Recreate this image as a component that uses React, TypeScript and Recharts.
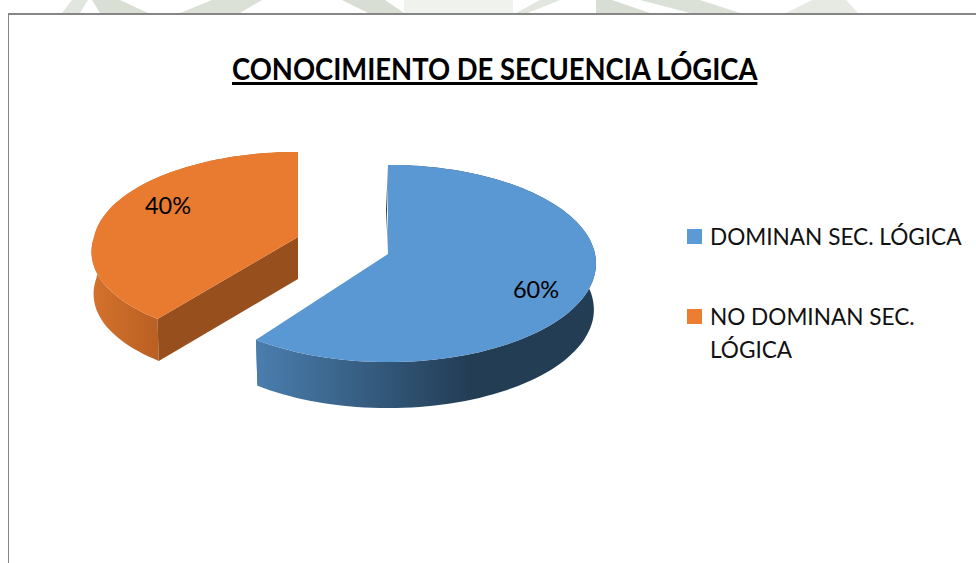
import React from 'react'
import { PieChart, Pie, Cell, Legend } from 'recharts'

const categories = ['DOMINAN SEC. LÓGICA', 'NO DOMINAN SEC. LÓGICA']
const values = [60, 40]
const sliceColors = ['#5B9BD5', '#ED7D31']
const topColors = ['#5A98D3', '#E97B30']

const chartData = categories.map((name, i) => ({ name, value: values[i] }))

// fake 3d: how far each slice is pulled out of the pie centre, wall height, near-side lean, squash
const explode = [
  { dx: 0, dy: 0, depth: 46, lean: 0, sx: 1, sy: 1 },
  { dx: -90, dy: -17, depth: 42, lean: 13, sx: 0.985, sy: 0.955 },
]
const labelOffset = [
  { dx: 148, dy: 35 },
  { dx: -130, dy: -32 },
]
const tilt = 0.472
const persp = 0.0964

// watermark scraps showing above the chart frame
const watermark = [
  { d: 'M62,13 L72,0 L88,0 L80,13 Z', fill: '#E1E6DE' },
  { d: 'M100,13 L92,0 L120,0 L148,13 Z', fill: '#DADFD6' },
  { d: 'M180,13 L212,0 L262,0 L240,13 Z', fill: '#DCE1D8' },
  { d: 'M342,0 L385,0 L404,13 L368,13 Z', fill: '#D8DED4' },
  { d: 'M404,0 L513,0 L513,13 L404,13 Z', fill: '#F0F2EE' },
  { d: 'M516,13 L540,0 L560,0 L528,13 Z', fill: '#E1E6DE' },
  { d: 'M596,0 L612,0 L650,13 L596,13 Z', fill: '#D8DED4' },
  { d: 'M640,0 L700,0 L740,13 L690,13 Z', fill: '#DCE1D8' },
  { d: 'M786,13 L812,0 L846,0 L858,13 Z', fill: '#E6EAE3' },
]

const project = (cx: number, cy: number, r: number, angle: number, fx = 1, fy = 1, lean = 0) => {
  const rad = (angle * Math.PI) / 180
  const u = Math.cos(rad)
  const v = -Math.sin(rad)
  const w = 1 - persp * v
  return [cx + (r * fx * u) / w - lean * Math.max(v, 0), cy + (r * tilt * fy * v) / w]
}

const toPath = (pts: number[][]) =>
  pts.map((p, i) => `${i ? 'L' : 'M'}${p[0].toFixed(1)},${p[1].toFixed(1)}`).join(' ') + ' Z'

const WALLS = [
  { id: 'wallBlue', x1: 259, x2: 597, stops: [['0', '#4A7DAD'], ['0.42', '#2F5272'], ['0.62', '#233D55'], ['1', '#233D55']] },
  { id: 'wallOrange', x1: 92, x2: 160, stops: [['0', '#D4722D'], ['1', '#B85F22']] },
]

const Slice3D = (props: any) => {
  const { cx, cy, outerRadius, startAngle, endAngle, index } = props
  const e = explode[index]
  const ax = cx + e.dx
  const ay = cy + e.dy
  const a0 = Math.max(startAngle, endAngle)
  const a1 = Math.min(startAngle, endAngle)
  const rim: number[][] = []
  const rimLow: number[][] = []
  for (let a = a0; a >= a1 - 0.01; a -= 2) {
    rim.push(project(ax, ay, outerRadius, a, e.sx, e.sy, e.lean))
    rimLow.push(project(ax, ay + e.depth, outerRadius, a, e.sx * 0.99, e.sy, e.lean))
  }
  rim.push(project(ax, ay, outerRadius, a1, e.sx, e.sy, e.lean))
  rimLow.push(project(ax, ay + e.depth, outerRadius, a1, e.sx * 0.99, e.sy, e.lean))
  const wall = WALLS[index]
  const first = rim[0]
  const lastTop = rim[rim.length - 1]
  const lastLow = rimLow[rimLow.length - 1]
  return (
    <g>
      <defs>
        <linearGradient id={wall.id} gradientUnits="userSpaceOnUse" x1={wall.x1} x2={wall.x2} y1="0" y2="0">
          {wall.stops.map((s) => (
            <stop key={s[0]} offset={s[0]} stopColor={s[1]} />
          ))}
        </linearGradient>
      </defs>
      <path d={toPath([...rim, ...rimLow.slice().reverse()])} fill={`url(#${wall.id})`} />
      {index === 1 && (
        <path d={toPath([[ax, ay], first, rimLow[0], [ax, ay + e.depth]])} fill="#974F1D" />
      )}
      {index === 0 && (
        <path d={toPath([first, [first[0] - 2, first[1] + 45], [ax, ay], [ax - 1, ay - 40]])} fill="#1F3A54" />
      )}
      {index === 0 && (
        <path d={toPath([lastTop, lastLow, [lastLow[0] + 1, lastLow[1] - 5], [lastTop[0] + 1, lastTop[1]]])} fill="#4A7DAD" />
      )}
      <path d={toPath([[ax, ay], ...rim])} fill={topColors[index]} />
    </g>
  )
}

const SliceLabel = (props: any) => {
  const { cx, cy, percent, index } = props
  const o = labelOffset[index]
  return (
    <text
      x={cx + explode[index].dx + o.dx}
      y={cy + explode[index].dy + o.dy}
      textAnchor="middle"
      dominantBaseline="central"
      fontFamily="Lato"
      fontSize={23.5}
      fill="#000"
    >
      {`${Math.round(percent * 100)}%`}
    </text>
  )
}

const LegendBox = ({ payload }: any) => (
  <div style={{ fontFamily: 'Lato', fontSize: 22.6, lineHeight: '33px', color: '#111' }}>
    {(payload || []).map((item: any, i: number) => (
      <div key={item.value} style={{ position: 'relative', paddingLeft: 23, marginBottom: i === 0 ? 47 : 0 }}>
        <span
          style={{
            position: 'absolute',
            left: 0,
            top: 9,
            width: 15,
            height: 15,
            background: sliceColors[i],
          }}
        />
        {item.value}
      </div>
    ))}
  </div>
)

export default function App() {
  return (
    <div style={{ position: 'fixed', left: 0, top: 0, width: 976, height: 563, background: '#fff', overflow: 'hidden' }}>
      <svg width={976} height={14} style={{ position: 'absolute', left: 0, top: 0 }}>
        {watermark.map((w) => (
          <path key={w.d} d={w.d} fill={w.fill} />
        ))}
      </svg>
      <div style={{ position: 'absolute', left: 8, top: 13, width: 968, height: 550, borderLeft: '1px solid #868686', borderTop: '2px solid #868686', boxSizing: 'border-box' }} />
      <div
        style={{
          position: 'absolute',
          left: 232,
          top: 50,
          fontFamily: 'Lato',
          fontWeight: 700,
          fontSize: 30,
          color: '#000',
          whiteSpace: 'nowrap',
          textDecoration: 'underline',
          textDecorationThickness: 3,
          transform: 'scaleX(0.913)',
          transformOrigin: 'left top',
        }}
      >
        CONOCIMIENTO DE SECUENCIA LÓGICA
      </div>
      <PieChart width={976} height={563} margin={{ top: 0, right: 0, bottom: 0, left: 0 }} style={{ position: 'absolute', left: 0, top: 0 }}>
        <Pie
          data={chartData}
          dataKey="value"
          nameKey="name"
          cx={388}
          cy={254}
          outerRadius={207}
          startAngle={90}
          endAngle={-270}
          stroke="none"
          isAnimationActive={false}
          shape={Slice3D}
          label={SliceLabel}
          labelLine={false}
        >
          {chartData.map((d, i) => (
            <Cell key={d.name} fill={sliceColors[i]} />
          ))}
        </Pie>
        <Legend
          layout="vertical"
          content={<LegendBox />}
          wrapperStyle={{ position: 'absolute', left: 687, top: 220, width: 280 }}
        />
      </PieChart>
    </div>
  )
}
